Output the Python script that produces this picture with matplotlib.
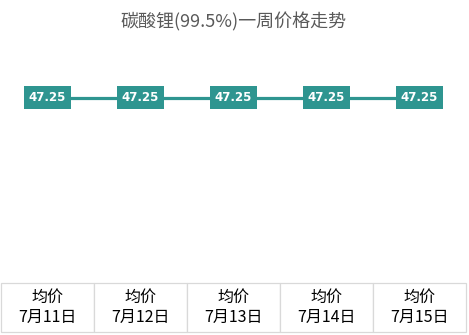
import matplotlib.pyplot as plt

plt.rcParams['font.family'] = ['Noto Sans CJK SC', 'DejaVu Sans']

dates = ['7月11日', '7月12日', '7月13日', '7月14日', '7月15日']
prices = [47.25, 47.25, 47.25, 47.25, 47.25]
row_name = '均价'

teal = '#2e9590'
W, H = 469, 335

fig = plt.figure(figsize=(W / 100, H / 100), dpi=100)
# plot area: x 1..466 px, y 48..283 px
ax = fig.add_axes([1 / W, (H - 283) / H, 465 / W, 235 / H])

x = list(range(len(dates)))
ax.plot(x, prices, color=teal, linewidth=2.3, zorder=2)
for xi, p in zip(x, prices):
    ax.text(xi, p, f'{p:.2f}', ha='center', va='center', color='white',
            fontsize=8.5, fontweight='bold', family='DejaVu Sans', zorder=3,
            bbox=dict(boxstyle='square,pad=0.42', fc=teal, ec='none'))

ax.set_xlim(-0.5, len(dates) - 0.5)
ax.set_ylim(0, 60)
ax.axis('off')

tbl = ax.table(cellText=[[f'{row_name}\n{d}' for d in dates]],
               cellLoc='center', bbox=[0, -49 / 235, 1, 49 / 235])
tbl.auto_set_font_size(False)
for cell in tbl.get_celld().values():
    cell.set_edgecolor('#d9d9d9')
    cell.set_linewidth(0.9)
    t = cell.get_text()
    t.set_fontsize(11.5)
    t.set_color('black')
    t.set_linespacing(1.25)

fig.text(234 / W, 1 - 22 / H, '碳酸锂(99.5%)一周价格走势', ha='center', va='center',
         fontsize=13, color='#595959')

fig.savefig('out.png', dpi=100)
